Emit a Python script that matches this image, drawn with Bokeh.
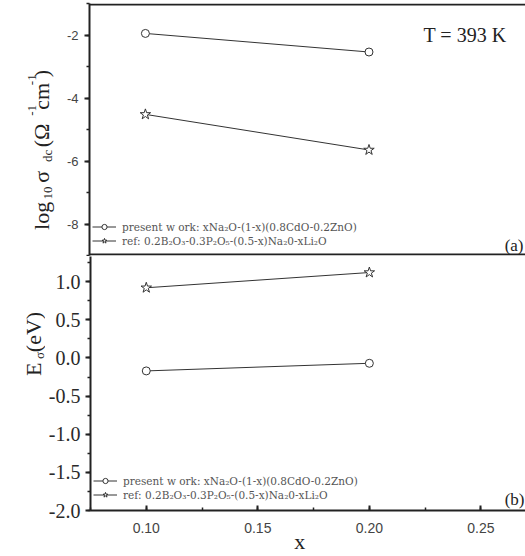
from math import pi
from bokeh.plotting import figure
from bokeh.models import (Range1d, SingleIntervalTicker, NumeralTickFormatter, Span,
                          Legend, LegendItem)
from bokeh.core.properties import value
from bokeh.layouts import column, row
from bokeh.embed import file_html
from bokeh.resources import INLINE

# ---------------- data ----------------
x_vals = [0.10, 0.20]
sigma_present = [-1.95, -2.54]
sigma_ref = [-4.52, -5.65]
e_present = [-0.17, -0.07]
e_ref = [0.92, 1.12]
legend_present = "present w ork: xNa\u2082O-(1-x)(0.8CdO-0.2ZnO)"
legend_ref = "ref: 0.2B\u2082O\u2083-0.3P\u2082O\u2085-(0.5-x)Na\u20820-xLi\u2082O"
temp_text = "T = 393 K"
x_title = "x"

# ---------------- layout constants ----------------
X0, X1 = 0.075, 0.27
FL, FR = 89, 525
TOP_Y0, TOP_Y1 = -9, -1
BOT_Y0, BOT_Y1 = -2.0, 1.33
TOP_H = 256           # top row height (frame 3..255)
BOT_H = 300           # bottom row height (frame 256..510, axis + title below)
LAB1_W, LAB2_W = 55, 45

DARK = "#222222"
LINE = "#333333"
SERIF = "Liberation Serif"
SANS = "Liberation Sans"
TOP_PX = (TOP_Y1 - TOP_Y0) / 252.0   # data units per pixel, top panel


def px2x(px):
    return X0 + (px - FL) * (X1 - X0) / (FR - FL)


def top_y(py):
    return TOP_Y1 - (py - 3) * TOP_PX


def bot_y(py):
    return BOT_Y1 - (py - 256) * (BOT_Y1 - BOT_Y0) / 254.0


def blank_fig(w, h):
    f = figure(width=w, height=h, x_range=Range1d(0, w), y_range=Range1d(0, h),
               output_backend="svg", toolbar_location=None,
               min_border_left=0, min_border_right=0, min_border_top=0, min_border_bottom=0)
    f.axis.visible = False
    f.grid.visible = False
    f.outline_line_color = None
    return f


def txt(f, x, y, text, size, angle=0.0, align="left", font=SERIF, color=DARK):
    f.text(x=[x], y=[y], text=[text], angle=angle, text_align=align,
           text_baseline="alphabetic", text_font=value(font), text_font_size=size,
           text_color=color)


def style_yaxis(p, interval, fmt, font, size, color, standoff):
    ax = p.yaxis[0]
    ax.ticker = SingleIntervalTicker(interval=interval, num_minor_ticks=2)
    ax.formatter = NumeralTickFormatter(format=fmt)
    ax.axis_line_width = 2
    ax.axis_line_color = DARK
    ax.major_tick_line_color = DARK
    ax.minor_tick_line_color = DARK
    ax.major_tick_line_width = 2
    ax.minor_tick_line_width = 1.5
    ax.major_tick_out = 5
    ax.major_tick_in = 0
    ax.minor_tick_out = 3
    ax.minor_tick_in = 0
    ax.major_label_standoff = standoff
    ax.major_label_text_font = font
    ax.major_label_text_font_size = size
    ax.major_label_text_color = color


def make_legend(r_present, r_ref, loc):
    return Legend(items=[LegendItem(label=legend_present, renderers=r_present),
                         LegendItem(label=legend_ref, renderers=r_ref)],
                  location=loc, background_fill_alpha=0, border_line_color=None,
                  padding=0, margin=0, spacing=1, glyph_width=24, glyph_height=13,
                  label_height=13, label_standoff=6, label_text_font="DejaVu Serif",
                  label_text_font_size="10.5px", label_text_color="#555555")


# ---------------- top panel ----------------
p1 = figure(width=525 - LAB1_W, height=TOP_H, x_range=Range1d(X0, X1),
            y_range=Range1d(TOP_Y0, TOP_Y1), output_backend="svg", toolbar_location=None,
            min_border_left=FL - LAB1_W, min_border_right=0, min_border_top=3,
            min_border_bottom=1)
p1.xaxis.visible = False
p1.grid.visible = False
p1.outline_line_color = None
style_yaxis(p1, 2, "0", SANS, "13px", "#444444", 6)

l1 = p1.line(x_vals, sigma_present, line_color=LINE, line_width=1)
s1 = p1.scatter(x_vals, sigma_present, marker="circle", size=8, line_color=LINE,
                fill_color="white", line_width=1)
l2 = p1.line(x_vals, sigma_ref, line_color=LINE, line_width=1)
s2 = p1.scatter(x_vals, sigma_ref, marker="star", size=11, line_color=LINE,
                fill_color="white", line_width=1)
p1.add_layout(make_legend([l1, s1], [l2, s2], (3, 8)))

# frame borders (top edge and the shared edge between the panels), kept 1px inside
for loc in (TOP_Y1 - TOP_PX, TOP_Y0 + TOP_PX):
    p1.add_layout(Span(location=loc, dimension="width", line_color=DARK, line_width=2))

txt(p1, px2x(423), top_y(34), temp_text, "20px")
txt(p1, px2x(523), top_y(245), "(a)", "17px", align="right")

# rotated y label of the top panel
lab1 = blank_fig(LAB1_W, TOP_H)
BX, SUBX, SUPX = 41, 47, 31


def ly1(py):
    return TOP_H - py


txt(lab1, BX, ly1(230), "log", "22px", angle=pi / 2)
txt(lab1, SUBX, ly1(199), "10", "13px", angle=pi / 2)
txt(lab1, BX, ly1(182), "\u03c3", "22px", angle=pi / 2)
txt(lab1, SUBX, ly1(161), "dc", "13px", angle=pi / 2)
txt(lab1, BX, ly1(146), "(\u03a9", "22px", angle=pi / 2)
txt(lab1, SUPX, ly1(114), "-1", "13px", angle=pi / 2)
txt(lab1, BX, ly1(108), "cm", "22px", angle=pi / 2)
txt(lab1, SUPX, ly1(83), "-1", "13px", angle=pi / 2)
txt(lab1, BX, ly1(75), ")", "22px", angle=pi / 2)

# ---------------- bottom panel ----------------
p2 = figure(width=525 - LAB2_W, height=BOT_H, x_range=Range1d(X0, X1),
            y_range=Range1d(BOT_Y0, BOT_Y1), output_backend="svg", toolbar_location=None,
            min_border_left=FL - LAB2_W, min_border_right=0, min_border_top=0,
            min_border_bottom=BOT_H - 254)
p2.grid.visible = False
p2.outline_line_color = None
style_yaxis(p2, 0.5, "0.0", SERIF, "20px", "#2a2a2a", 5)

xa = p2.xaxis[0]
xa.ticker = SingleIntervalTicker(interval=0.05, num_minor_ticks=2)
xa.formatter = NumeralTickFormatter(format="0.00")
xa.axis_line_width = 2
xa.axis_line_color = DARK
xa.major_tick_line_color = DARK
xa.minor_tick_line_color = DARK
xa.major_tick_line_width = 2
xa.minor_tick_line_width = 1.5
xa.major_tick_in = 5
xa.major_tick_out = 0
xa.minor_tick_in = 3
xa.minor_tick_out = 0
xa.major_label_standoff = 12
xa.major_label_text_font = SANS
xa.major_label_text_font_size = "14px"
xa.major_label_text_color = "#444444"
# trailing no-break spaces nudge the centred title a little to the left, as in the reference
xa.axis_label = x_title + "\u00a0\u00a0\u00a0"
xa.axis_label_text_font = SERIF
xa.axis_label_text_font_style = "normal"
xa.axis_label_text_font_size = "22px"
xa.axis_label_text_color = DARK
xa.axis_label_standoff = -7

l3 = p2.line(x_vals, e_present, line_color=LINE, line_width=1)
s3 = p2.scatter(x_vals, e_present, marker="circle", size=8, line_color=LINE,
                fill_color="white", line_width=1)
l4 = p2.line(x_vals, e_ref, line_color=LINE, line_width=1)
s4 = p2.scatter(x_vals, e_ref, marker="star", size=11, line_color=LINE,
                fill_color="white", line_width=1)
p2.add_layout(make_legend([l3, s3], [l4, s4], (3, 9)))

txt(p2, px2x(524), bot_y(499), "(b)", "17px", align="right")

# rotated y label of the bottom panel
lab2 = blank_fig(LAB2_W, BOT_H)


def ly2(py):
    return (TOP_H + BOT_H) - py


txt(lab2, 33, ly2(397), "E", "22px", angle=pi / 2)
txt(lab2, 38.5, ly2(377), "\u03c3", "13px", angle=pi / 2)
txt(lab2, 33, ly2(369), " (eV)", "22px", angle=pi / 2)

layout = column(row(lab1, p1, spacing=0), row(lab2, p2, spacing=0), spacing=0)

with open("out.html", "w") as f:
    f.write(file_html(layout, INLINE))
